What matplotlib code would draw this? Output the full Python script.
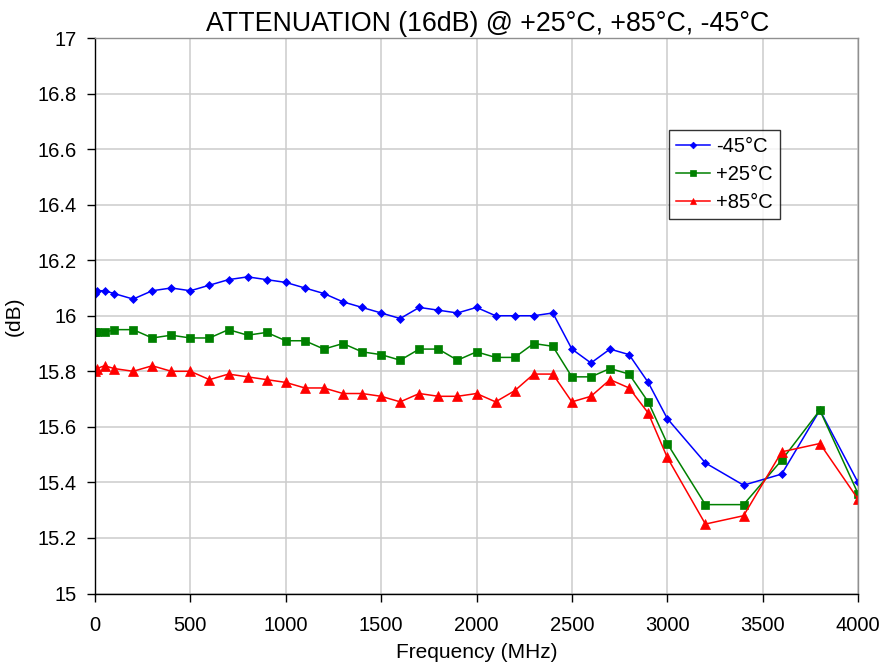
import matplotlib
matplotlib.use("Agg")
import matplotlib.pyplot as plt

freq = [1, 10, 50, 100, 200, 300, 400, 500, 600, 700, 800, 900, 1000, 1100, 1200, 1300,
        1400, 1500, 1600, 1700, 1800, 1900, 2000, 2100, 2200, 2300, 2400, 2500, 2600,
        2700, 2800, 2900, 3000, 3200, 3400, 3600, 3800, 4000]

m45 = [16.08, 16.09, 16.09, 16.08, 16.06, 16.09, 16.10, 16.09, 16.11, 16.13, 16.14, 16.13,
       16.12, 16.10, 16.08, 16.05, 16.03, 16.01, 15.99, 16.03, 16.02, 16.01, 16.03, 16.00,
       16.00, 16.00, 16.01, 15.88, 15.83, 15.88, 15.86, 15.76, 15.63, 15.47, 15.39, 15.43,
       15.66, 15.40]

p25 = [15.94, 15.94, 15.94, 15.95, 15.95, 15.92, 15.93, 15.92, 15.92, 15.95, 15.93, 15.94,
       15.91, 15.91, 15.88, 15.90, 15.87, 15.86, 15.84, 15.88, 15.88, 15.84, 15.87, 15.85,
       15.85, 15.90, 15.89, 15.78, 15.78, 15.81, 15.79, 15.69, 15.54, 15.32, 15.32, 15.48,
       15.66, 15.36]

p85 = [15.80, 15.81, 15.82, 15.81, 15.80, 15.82, 15.80, 15.80, 15.77, 15.79, 15.78, 15.77,
       15.76, 15.74, 15.74, 15.72, 15.72, 15.71, 15.69, 15.72, 15.71, 15.71, 15.72, 15.69,
       15.73, 15.79, 15.79, 15.69, 15.71, 15.77, 15.74, 15.65, 15.49, 15.25, 15.28, 15.51,
       15.54, 15.34]

labels = ["-45°C", "+25°C", "+85°C"]
colors = ["#0000FF", "#008000", "#FF0000"]
markers = ["D", "s", "^"]

plt.rcParams['font.family'] = ['Liberation Sans', 'DejaVu Sans']

fig = plt.figure(figsize=(8.85, 6.65), dpi=100)
ax = fig.add_axes([95 / 885, 1 - 593.5 / 665, (858 - 95) / 885, (593.5 - 38) / 665])

sizes = [4.5, 6, 6.5]
for ys, lab, c, mk, ms in zip([m45, p25, p85], labels, colors, markers, sizes):
    ax.plot(freq, ys, color=c, marker=mk, markersize=ms, linewidth=1.1, label=lab,
            markeredgewidth=0.5, markeredgecolor=c)

ax.set_xlim(0, 4000)
ax.set_ylim(15, 17)
ax.set_xticks(range(0, 4001, 500))
ax.set_yticks([15 + 0.2 * i for i in range(11)])
ax.set_yticklabels(["15", "15.2", "15.4", "15.6", "15.8", "16", "16.2", "16.4", "16.6", "16.8", "17"])
ax.grid(True, color="#CCCCCC", linewidth=1.1)
ax.set_axisbelow(True)
for s in ["top", "right"]:
    ax.spines[s].set_color("#909090")
    ax.spines[s].set_linewidth(1.0)
for s in ["left", "bottom"]:
    ax.spines[s].set_color("black")
    ax.spines[s].set_linewidth(1.0)
ax.tick_params(axis="both", labelsize=14.5, direction="out", length=6, width=1)
ax.tick_params(axis="x", pad=10)
ax.tick_params(axis="y", pad=7)
ax.set_xlabel("Frequency (MHz)", fontsize=15, labelpad=6)
ax.set_ylabel("(dB)", fontsize=15, labelpad=10)
ax.set_title("ATTENUATION (16dB) @ +25°C, +85°C, -45°C", fontsize=19.3, pad=5, x=0.515)

leg = ax.legend(loc="upper left", bbox_to_anchor=(669 / 885, 1 - 130 / 665),
                bbox_transform=fig.transFigure, fontsize=14.5,
                frameon=True, fancybox=False, edgecolor="black", handlelength=1.7,
                labelspacing=0.45, borderpad=0.35, handletextpad=0.3, markerscale=0.75,
                borderaxespad=0)
leg.get_frame().set_linewidth(1.0)

fig.savefig("out.png", dpi=100)
